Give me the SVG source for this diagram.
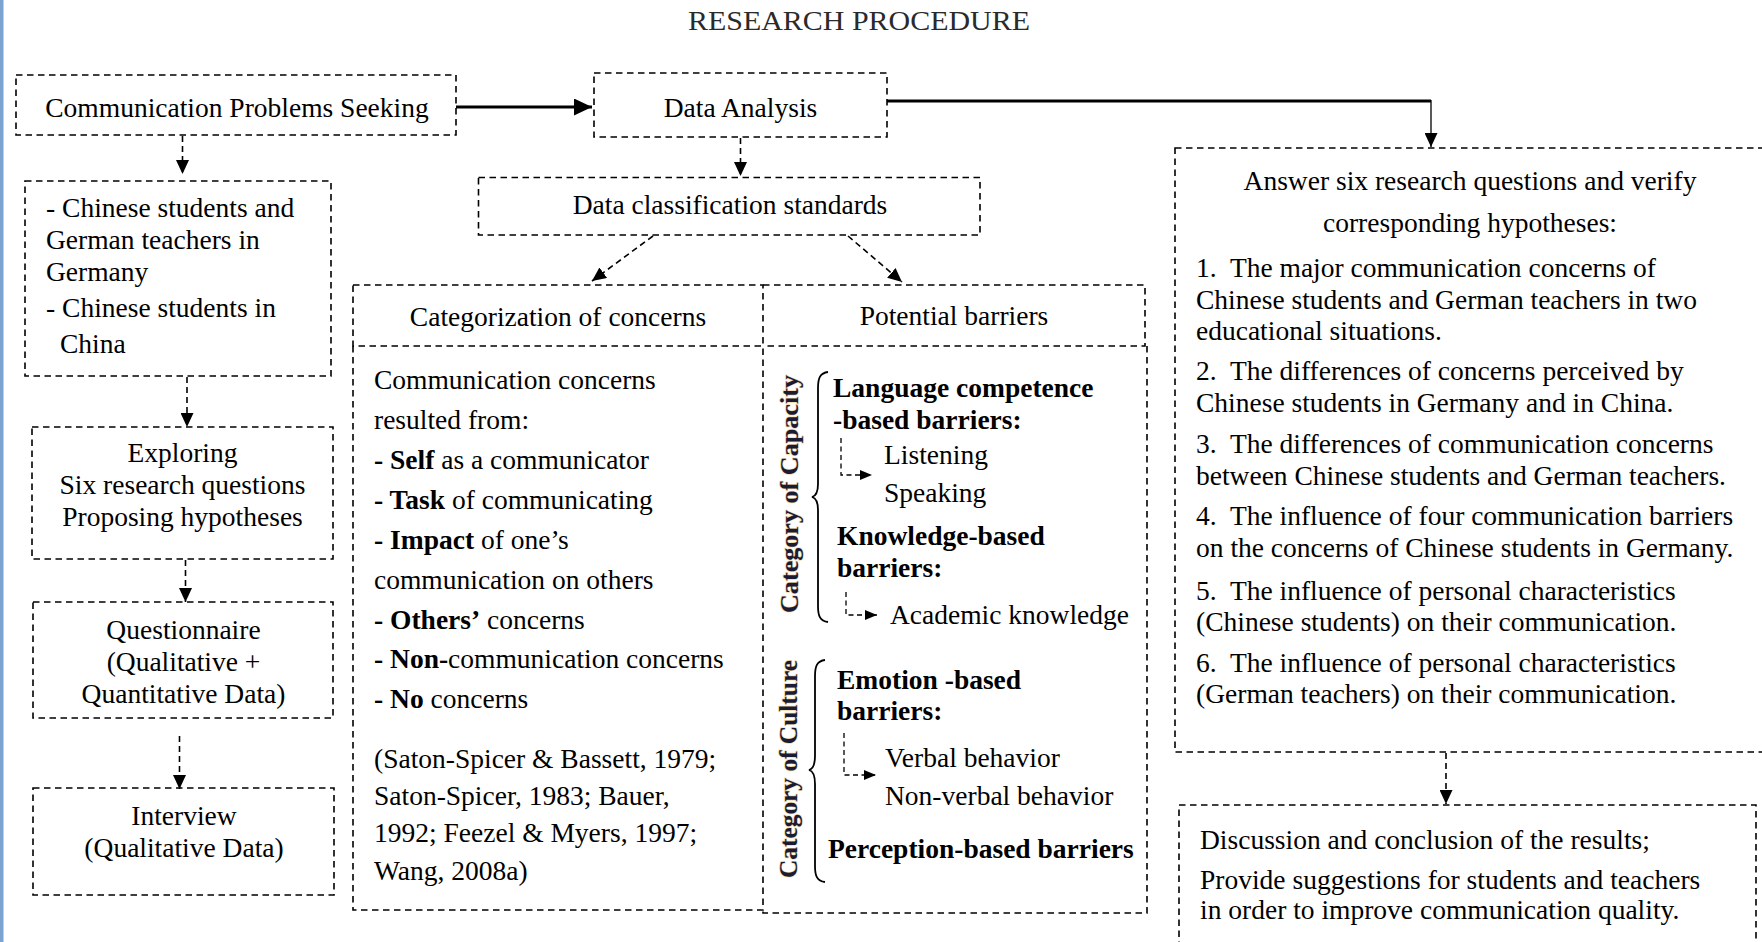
<svg xmlns="http://www.w3.org/2000/svg" width="1762" height="942" viewBox="0 0 1762 942">
  <style>
    .box { fill: none; stroke: #000; stroke-width: 1.6; stroke-dasharray: 6.5 4.5; }
    .t { font-family: "Liberation Serif", "Times New Roman", serif; font-size: 27.5px; fill: #000; }
    .c { text-anchor: middle; }
    .b { font-weight: bold; }
    .dash { fill: none; stroke: #000; stroke-width: 1.6; stroke-dasharray: 6 4; }
    .thin { fill: none; stroke: #000; stroke-width: 1.3; stroke-dasharray: 5 3.5; }
    .solid { fill: none; stroke: #000; stroke-width: 3; }
    .cat { font-family: "Liberation Serif", "Times New Roman", serif; font-size: 25px; font-weight: bold; fill: #1b1b33; stroke: #f2dcb0; stroke-width: 1.4; paint-order: stroke; }
    .brace { fill: none; stroke: #000; stroke-width: 1.8; }
  </style>
  <defs>
    <marker id="arr" markerUnits="userSpaceOnUse" markerWidth="14" markerHeight="13" refX="14" refY="6.5" orient="auto">
      <path d="M0,0 L14,6.5 L0,13 z" fill="#000"/>
    </marker>
    <marker id="arrBig" markerUnits="userSpaceOnUse" markerWidth="18" markerHeight="17" refX="18" refY="8.5" orient="auto">
      <path d="M0,0 L18,8.5 L0,17 z" fill="#000"/>
    </marker>
    <marker id="arrSm" markerUnits="userSpaceOnUse" markerWidth="12" markerHeight="10" refX="12" refY="5" orient="auto">
      <path d="M0,0 L12,5 L0,10 z" fill="#000"/>
    </marker>
  </defs>

  <rect width="1762" height="942" fill="#fff"/>
  <!-- page margin strip -->
  <rect x="0" y="0" width="3.5" height="942" fill="#7ba3cf"/>

  <text id="title" x="859" y="29.5" class="t c" style="font-size:28px;fill:#2a2a2a" textLength="342" lengthAdjust="spacingAndGlyphs">RESEARCH PROCEDURE</text>

  <g id="problems-seeking">
    <rect class="box" x="16" y="75" width="440" height="60"/>
    <text class="t c" x="237" y="117">Communication Problems Seeking</text>
  </g>

  <g id="data-analysis">
    <rect class="box" x="594" y="73" width="293" height="64"/>
    <text class="t c" x="740.5" y="117">Data Analysis</text>
  </g>

  <g id="participants">
    <rect class="box" x="25" y="181" width="306" height="195"/>
    <text class="t" x="46" y="216.5">- Chinese students and</text>
    <text class="t" x="46" y="248.5">German teachers in</text>
    <text class="t" x="46" y="280.5">Germany</text>
    <text class="t" x="46" y="316.5">- Chinese students in</text>
    <text class="t" x="60" y="352.5">China</text>
  </g>

  <g id="exploring">
    <rect class="box" x="32" y="427" width="301" height="132"/>
    <text class="t c" x="182.5" y="461.5">Exploring</text>
    <text class="t c" x="182.5" y="493.5">Six research questions</text>
    <text class="t c" x="182.5" y="525.5">Proposing hypotheses</text>
  </g>

  <g id="questionnaire">
    <rect class="box" x="33" y="602" width="300" height="116"/>
    <text class="t c" x="183.5" y="639">Questionnaire</text>
    <text class="t c" x="183.5" y="671">(Qualitative +</text>
    <text class="t c" x="183.5" y="703">Quantitative Data)</text>
  </g>

  <g id="interview">
    <rect class="box" x="33" y="788" width="301" height="107"/>
    <text class="t c" x="184" y="824.5">Interview</text>
    <text class="t c" x="184" y="856.5">(Qualitative Data)</text>
  </g>

  <g id="classification">
    <rect class="box" x="478.5" y="177.5" width="501.5" height="57.5"/>
    <text class="t c" x="730" y="213.5">Data classification standards</text>
  </g>

  <g id="concerns">
    <rect class="box" x="353" y="285" width="410" height="61"/>
    <text class="t c" x="558" y="325.5">Categorization of concerns</text>
    <path class="box" d="M353,346 V910 H763 V346"/>
    <text class="t" x="374" y="388.5">Communication concerns</text>
    <text class="t" x="374" y="428.5">resulted from:</text>
    <text class="t" x="374" y="468.5"><tspan class="b">- Self</tspan> as a communicator</text>
    <text class="t" x="374" y="508.5"><tspan class="b">- Task</tspan> of communicating</text>
    <text class="t" x="374" y="548.5"><tspan class="b">- Impact</tspan> of one’s</text>
    <text class="t" x="374" y="588.5">communication on others</text>
    <text class="t" x="374" y="628.5"><tspan class="b">- Others’</tspan> concerns</text>
    <text class="t" x="374" y="668"><tspan class="b">- Non-</tspan>communication concerns</text>
    <text class="t" x="374" y="708"><tspan class="b">- No</tspan> concerns</text>
    <text class="t" x="374" y="768">(Saton-Spicer &amp; Bassett, 1979;</text>
    <text class="t" x="374" y="805">Saton-Spicer, 1983; Bauer,</text>
    <text class="t" x="374" y="842">1992; Feezel &amp; Myers, 1997;</text>
    <text class="t" x="374" y="880">Wang, 2008a)</text>
  </g>

  <g id="barriers">
    <path class="box" d="M763,285 H1145 V346 H763"/>
    <text class="t c" x="954" y="325">Potential barriers</text>
    <path class="box" d="M1147,346 V913 H763 V910"/>

    <text class="cat c" transform="translate(798,494) rotate(-90)" textLength="238" lengthAdjust="spacingAndGlyphs">Category of Capacity</text>
    <path class="brace" d="M828,372 C820,373 818,378 818,388 L818,484 C818,492 816,496 812,497 C816,498 818,502 818,510 L818,606 C818,616 820,621 828,622"/>
    <text class="t b" x="833" y="396.5">Language competence</text>
    <text class="t b" x="833" y="428.5">-based barriers:</text>
    <text class="t" x="884" y="463.5">Listening</text>
    <text class="t" x="884" y="501.5">Speaking</text>
    <text class="t b" x="837" y="545">Knowledge-based</text>
    <text class="t b" x="837" y="577">barriers:</text>
    <text class="t" x="890" y="623.5">Academic knowledge</text>

    <text class="cat c" transform="translate(797,769) rotate(-90)" textLength="218" lengthAdjust="spacingAndGlyphs">Category of Culture</text>
    <path class="brace" d="M825,660 C817,661 815,666 815,676 L815,756 C815,765 813,769 809,770 C813,771 815,775 815,784 L815,866 C815,876 817,881 825,882"/>
    <text class="t b" x="837" y="688.5">Emotion -based</text>
    <text class="t b" x="837" y="720">barriers:</text>
    <text class="t" x="885" y="767">Verbal behavior</text>
    <text class="t" x="885" y="805">Non-verbal behavior</text>
    <text class="t b" x="828" y="857.5">Perception-based barriers</text>
  </g>

  <g id="answers">
    <rect class="box" x="1175" y="148" width="620" height="604"/>
    <text class="t c" x="1470" y="190">Answer six research questions and verify</text>
    <text class="t c" x="1470" y="231.5">corresponding hypotheses:</text>
    <text class="t" x="1196" y="276.5">1.&#160; The major communication concerns of</text>
    <text class="t" x="1196" y="308.5">Chinese students and German teachers in two</text>
    <text class="t" x="1196" y="340">educational situations.</text>
    <text class="t" x="1196" y="380">2.&#160; The differences of concerns perceived by</text>
    <text class="t" x="1196" y="411.5">Chinese students in Germany and in China.</text>
    <text class="t" x="1196" y="453">3.&#160; The differences of communication concerns</text>
    <text class="t" x="1196" y="485">between Chinese students and German teachers.</text>
    <text class="t" x="1196" y="525">4.&#160; The influence of four communication barriers</text>
    <text class="t" x="1196" y="556.5">on the concerns of Chinese students in Germany.</text>
    <text class="t" x="1196" y="600">5.&#160; The influence of personal characteristics</text>
    <text class="t" x="1196" y="630.5">(Chinese students) on their communication.</text>
    <text class="t" x="1196" y="671.5">6.&#160; The influence of personal characteristics</text>
    <text class="t" x="1196" y="703">(German teachers) on their communication.</text>
  </g>

  <g id="conclusion">
    <rect class="box" x="1179" y="805" width="577" height="160"/>
    <text class="t" x="1200" y="848.5">Discussion and conclusion of the results;</text>
    <text class="t" x="1200" y="888.5">Provide suggestions for students and teachers</text>
    <text class="t" x="1200" y="918.5">in order to improve communication quality.</text>
  </g>

  <g id="connectors">
    <line class="solid" x1="456" y1="107" x2="592" y2="107" marker-end="url(#arrBig)"/>
    <polyline class="solid" points="887,101 1431,101"/>
    <line x1="1431" y1="100" x2="1431" y2="147" stroke="#000" stroke-width="1.3" marker-end="url(#arr)"/>
    <line class="dash" x1="182.5" y1="136" x2="182.5" y2="174" marker-end="url(#arr)"/>
    <line class="dash" x1="740.5" y1="138" x2="740.5" y2="176" marker-end="url(#arr)"/>
    <line class="dash" x1="187" y1="377" x2="187" y2="427" marker-end="url(#arr)"/>
    <line class="dash" x1="185.5" y1="560" x2="185.5" y2="602" marker-end="url(#arr)"/>
    <line class="dash" x1="179.5" y1="736" x2="179.5" y2="789" marker-end="url(#arr)"/>
    <line class="dash" x1="653" y1="236" x2="592" y2="281" marker-end="url(#arr)"/>
    <line class="dash" x1="848" y1="236" x2="902" y2="282" marker-end="url(#arr)"/>
    <line class="dash" x1="1446" y1="753" x2="1446" y2="804" marker-end="url(#arr)"/>
    <polyline class="thin" points="841,438 841,475 872,475" marker-end="url(#arrSm)"/>
    <polyline class="thin" points="846,592 846,615 877,615" marker-end="url(#arrSm)"/>
    <polyline class="thin" points="844,733 844,775 876,775" marker-end="url(#arrSm)"/>
  </g>
</svg>
